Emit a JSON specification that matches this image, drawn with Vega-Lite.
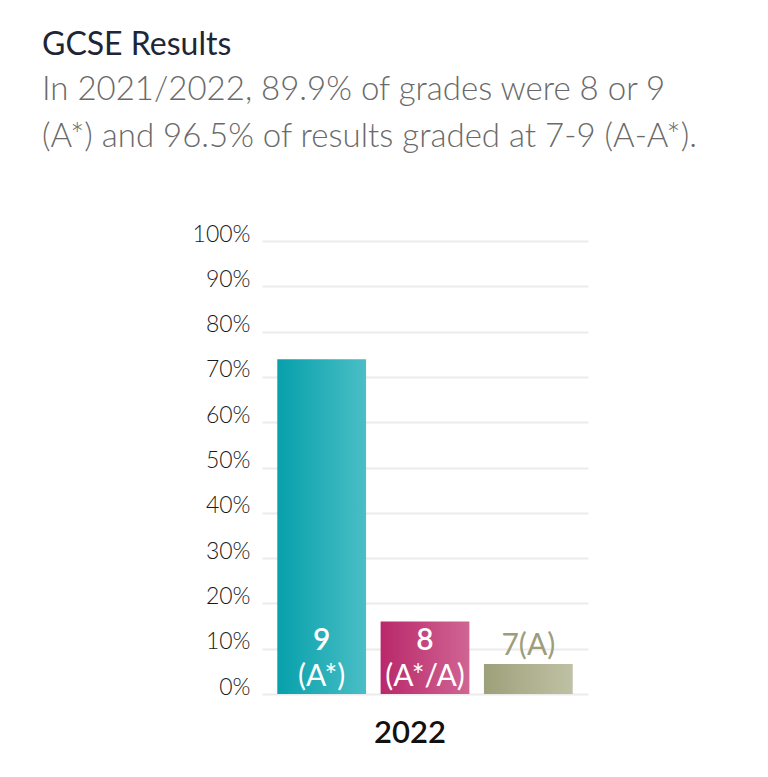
{
  "$schema": "https://vega.github.io/schema/vega-lite/v6.json",
  "width": 326,
  "height": 453,
  "autosize": {"type": "none"},
  "padding": {"left": 262, "top": 241, "right": 180, "bottom": 83},
  "background": "white",
  "view": {"stroke": null},
  "title": {
    "text": "GCSE Results",
    "subtitle": ["In 2021/2022, 89.9% of grades were 8 or 9", "(A*) and 96.5% of results graded at 7-9 (A-A*)."],
    "anchor": "start",
    "frame": "group",
    "dx": -220,
    "offset": 68,
    "font": "Lato",
    "fontSize": 32,
    "fontWeight": 400,
    "color": "#1d2636",
    "subtitleFont": "Lato",
    "subtitleFontSize": 33,
    "subtitleFontWeight": 300,
    "subtitleColor": "#6a6a6a",
    "subtitleLineHeight": 47,
    "subtitlePadding": 12
  },
  "data": {
    "values": [
      {"year": "2022", "grade": "9", "num": "9", "sub": "(A*)", "label": "9 (A*)", "pct": 73.9},
      {"year": "2022", "grade": "8", "num": "8", "sub": "(A*/A)", "label": "8 (A*/A)", "pct": 16.0},
      {"year": "2022", "grade": "7", "num": "7", "sub": "(A)", "label": "7(A)", "pct": 6.6}
    ]
  },
  "encoding": {
    "x": {
      "field": "year",
      "type": "nominal",
      "scale": {"paddingInner": 0, "paddingOuter": 0},
      "axis": {
        "title": null,
        "labelAngle": 0,
        "labelFont": "Lato",
        "labelFontSize": 31,
        "labelFontWeight": 600,
        "labelColor": "#111111",
        "labelPadding": 24,
        "labelOffset": -15,
        "ticks": false,
        "domain": false
      }
    },
    "xOffset": {
      "field": "grade",
      "type": "nominal",
      "sort": ["9", "8", "7"],
      "scale": {"paddingInner": 0.141, "paddingOuter": 0.148}
    }
  },
  "layer": [
    {
      "mark": {"type": "bar"},
      "encoding": {
        "y": {
          "field": "pct",
          "type": "quantitative",
          "scale": {"domain": [0, 100]},
          "axis": {
            "title": null,
            "values": [0, 10, 20, 30, 40, 50, 60, 70, 80, 90, 100],
            "labelExpr": "datum.value + '%'",
            "domain": false,
            "ticks": false,
            "labelPadding": 12,
            "labelBaseline": "alphabetic",
            "labelFont": "Lato",
            "labelFontSize": 23,
            "labelFontWeight": 300,
            "labelColor": "#1a1a1a",
            "gridColor": "#ebebeb",
            "gridWidth": 2
          }
        },
        "color": {
          "condition": [
            {"test": "datum.grade === '9'", "value": {"gradient": "linear", "x1": 0, "y1": 0, "x2": 1, "y2": 0, "stops": [{"offset": 0, "color": "#06a0ab"}, {"offset": 1, "color": "#4abec5"}]}},
            {"test": "datum.grade === '8'", "value": {"gradient": "linear", "x1": 0, "y1": 0, "x2": 1, "y2": 0, "stops": [{"offset": 0, "color": "#b9286a"}, {"offset": 1, "color": "#d06593"}]}}
          ],
          "value": {"gradient": "linear", "x1": 0, "y1": 0, "x2": 1, "y2": 0, "stops": [{"offset": 0, "color": "#9ea07b"}, {"offset": 1, "color": "#bfc1a4"}]}
        }
      }
    },
    {
      "transform": [{"filter": "datum.grade !== '7'"}],
      "mark": {"type": "text", "font": "Lato", "fontSize": 30, "fontWeight": 600, "color": "white", "baseline": "alphabetic", "dy": -44},
      "encoding": {
        "y": {"datum": 0, "type": "quantitative"},
        "text": {"field": "num"}
      }
    },
    {
      "transform": [{"filter": "datum.grade !== '7'"}],
      "mark": {"type": "text", "font": "Lato", "fontSize": 30, "fontWeight": 400, "color": "white", "baseline": "alphabetic", "dy": -8},
      "encoding": {
        "y": {"datum": 0, "type": "quantitative"},
        "text": {"field": "sub"}
      }
    },
    {
      "transform": [{"filter": "datum.grade === '7'"}],
      "mark": {"type": "text", "font": "Lato", "fontSize": 30, "fontWeight": 400, "color": "#9c9d7b", "baseline": "alphabetic", "dy": -9},
      "encoding": {
        "y": {"field": "pct", "type": "quantitative"},
        "text": {"field": "label"}
      }
    }
  ]
}
